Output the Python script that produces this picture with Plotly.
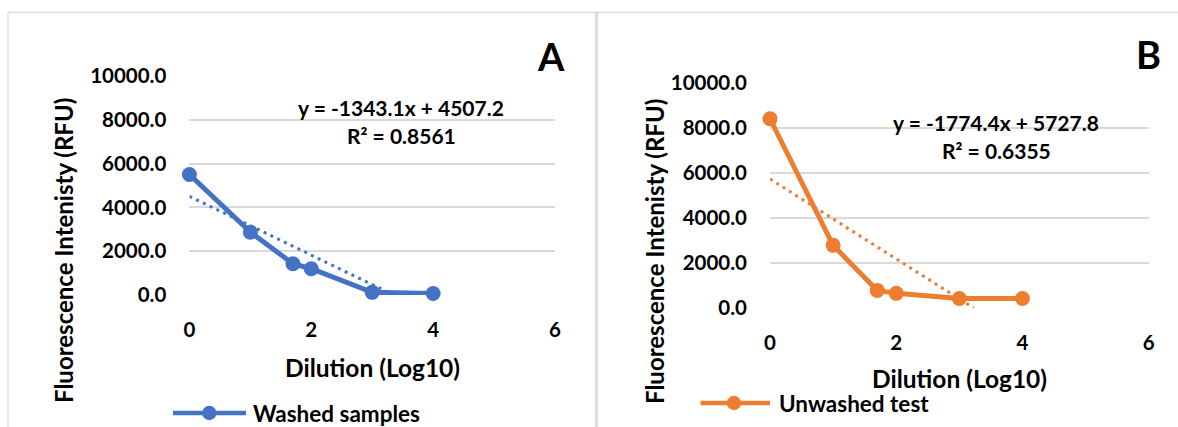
import plotly.graph_objects as go

W, H = 1178, 427

# ---- data ----
dilution_log10 = [0, 1, 1.699, 2, 3, 4]
washed_rfu = [5500, 2870, 1430, 1200, 120, 70]
unwashed_rfu = [8400, 2780, 780, 650, 420, 420]

washed_slope, washed_intercept, washed_r2 = -1343.1, 4507.2, 0.8561
unwashed_slope, unwashed_intercept, unwashed_r2 = -1774.4, 5727.8, 0.6355

x_ticks = [0, 2, 4, 6]
y_ticks = [0, 2000, 4000, 6000, 8000, 10000]

BLUE = "#4472C4"
ORANGE = "#ED7D31"
GRID = "#d9d9d9"
FONT = "Lato"


def px(x, y):
    return x / W, 1 - y / H


def trend(slope, intercept):
    x0 = 0
    x1 = -intercept / slope  # clipped at the y = 0 axis minimum
    return [x0, x1], [intercept + slope * x0, intercept + slope * x1]


fig = go.Figure()

# Panel A
fig.add_trace(go.Scatter(x=dilution_log10, y=washed_rfu, mode="lines+markers",
                         line=dict(color=BLUE, width=5), marker=dict(size=15, color=BLUE),
                         name="Washed samples", cliponaxis=False, showlegend=False,
                         xaxis="x", yaxis="y"))
tx, ty = trend(washed_slope, washed_intercept)
fig.add_trace(go.Scatter(x=tx, y=ty, mode="lines", line=dict(color=BLUE, width=3, dash="3px,4.5px"),
                         showlegend=False, hoverinfo="skip", xaxis="x", yaxis="y"))

# Panel B
fig.add_trace(go.Scatter(x=dilution_log10, y=unwashed_rfu, mode="lines+markers",
                         line=dict(color=ORANGE, width=5), marker=dict(size=15, color=ORANGE),
                         name="Unwashed test", cliponaxis=False, showlegend=False,
                         xaxis="x2", yaxis="y2"))
tx, ty = trend(unwashed_slope, unwashed_intercept)
fig.add_trace(go.Scatter(x=tx, y=ty, mode="lines", line=dict(color=ORANGE, width=3, dash="3px,4.5px"),
                         showlegend=False, hoverinfo="skip", xaxis="x2", yaxis="y2"))

tickfont = dict(family=FONT, size=20.5, color="black", weight="bold")

xcommon = dict(range=[0, 6], tickvals=x_ticks, showgrid=False, zeroline=False, showline=False,
               tickfont=tickfont, ticklabelstandoff=20, fixedrange=True, automargin=False)
ycommon = dict(range=[0, 10000], tickvals=y_ticks, tickformat=".1f", showgrid=True, gridcolor=GRID,
               gridwidth=2, zeroline=False, showline=False, tickfont=tickfont,
               ticklabelstandoff=22, fixedrange=True, automargin=False)

fig.update_layout(
    width=W, height=H,
    margin=dict(l=0, r=0, t=0, b=0, pad=0, autoexpand=False),
    paper_bgcolor="white", plot_bgcolor="white",
    font=dict(family=FONT, color="black"),
    xaxis=dict(domain=[189.4 / W, 555 / W], anchor="y", **xcommon),
    yaxis=dict(domain=[1 - 295 / H, 1 - 76 / H], anchor="x", **ycommon),
    xaxis2=dict(domain=[770 / W, 1148.7 / W], anchor="y2", **xcommon),
    yaxis2=dict(domain=[1 - 308 / H, 1 - 82.7 / H], anchor="x2", **ycommon),
)

annotations = []


def text(x, y, s, size, xanchor="center", angle=0):
    ax, ay = px(x, y)
    annotations.append(dict(x=ax, y=ay, xref="paper", yref="paper", text=s, showarrow=False,
                            xanchor=xanchor, yanchor="middle", textangle=angle,
                            font=dict(family=FONT, size=size, color="black", weight="bold")))


# panel letters
text(551, 56, "A", 38)
text(1148, 54, "B", 38)
# equations
text(401, 107, f"y = {washed_slope}x + {washed_intercept}", 21)
text(401, 135, f"R² = {washed_r2}", 21)
text(996, 122, f"y = {unwashed_slope}x + {unwashed_intercept}", 21)
text(996, 151, f"R² = {unwashed_r2}", 21)
# axis titles
text(372, 367, "Dilution (Log10)", 24.5)
text(959, 378, "Dilution (Log10)", 24.5)
text(63, 251, "Fluorescence Intenisty (RFU)", 24, angle=-90)
text(654, 252, "Fluorescence Intenisty (RFU)", 24, angle=-90)
# legend texts
text(251, 413, "Washed samples", 22.5, xanchor="left")
text(777, 403, "Unwashed test", 22.5, xanchor="left")

shapes = []


def pline(x0, y0, x1, y1, color, width):
    a0, b0 = px(x0, y0)
    a1, b1 = px(x1, y1)
    shapes.append(dict(type="line", xref="paper", yref="paper", x0=a0, y0=b0, x1=a1, y1=b1,
                       line=dict(color=color, width=width)))


def pcircle(cx, cy, r, color):
    a0, b0 = px(cx - r, cy + r)
    a1, b1 = px(cx + r, cy - r)
    shapes.append(dict(type="circle", xref="paper", yref="paper", x0=a0, y0=b0, x1=a1, y1=b1,
                       fillcolor=color, line=dict(color=color, width=0)))


# panel borders
pline(8, 12.3, 596, 12.3, "#d9d9d9", 1.2)
pline(8, 12.3, 8, 427, "#d9d9d9", 1.2)
pline(596.5, 12.3, 596.5, 427, "#dedede", 3.5)
pline(596, 12.3, 1178, 12.3, "#d9d9d9", 1.2)
# legend symbols
pline(173, 413, 246, 413, BLUE, 4.7)
pcircle(209.3, 413, 7.2, BLUE)
pline(700.6, 403, 770, 403, ORANGE, 4.7)
pcircle(734, 403, 7.2, ORANGE)

fig.update_layout(annotations=annotations, shapes=shapes)

fig.write_html("out.html", config={"displayModeBar": False},
               post_script="document.body.style.margin='0';document.body.style.overflow='hidden';")
